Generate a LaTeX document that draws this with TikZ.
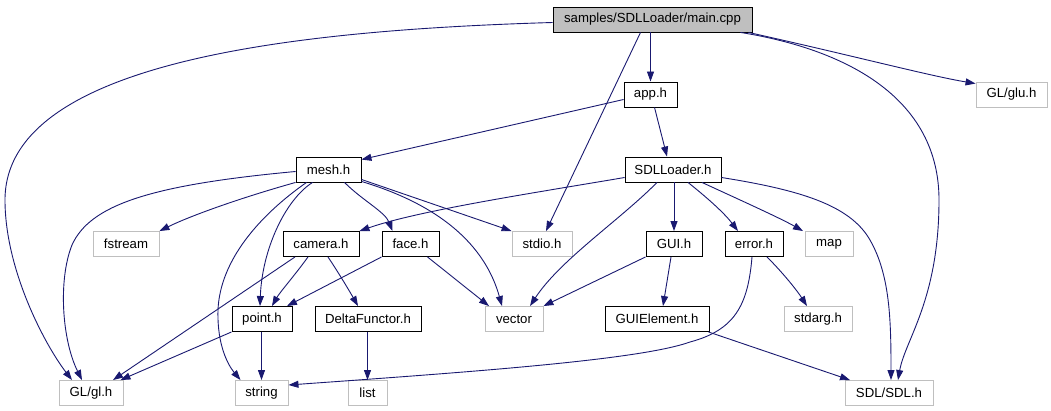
\documentclass[tikz,border=0pt]{standalone}
\usepackage{fontspec}
\setmainfont{Liberation Sans}
\usetikzlibrary{arrows.meta}
\definecolor{edgeblue}{HTML}{191970}
\definecolor{sysgray}{HTML}{BFBFBF}

\begin{document}
\begin{tikzpicture}[x=1pt,y=-1pt,>={Triangle[length=10pt,width=7pt]},line width=0.9pt,
  every node/.style={font=\fontsize{13.2}{15}\selectfont,inner sep=0pt,minimum height=25pt,align=center},
  hdr/.style={draw=black},
  sys/.style={draw=sysgray},
  dep/.style={->,draw=edgeblue}]
\useasboundingbox (0,0) rectangle (1051,411);
% files of the project
\node[hdr,fill=sysgray,minimum width=199pt] (main) at (652.5,19.5) {samples/SDLLoader/main.cpp};
\node[hdr,minimum width=53pt] (app) at (650.5,94.5) {app.h};
\node[hdr,minimum width=65pt] (mesh) at (328.5,169.5) {mesh.h};
\node[hdr,minimum width=96pt] (loader) at (673,169.5) {SDLLoader.h};
\node[hdr,minimum width=76pt] (camera) at (321,244) {camera.h};
\node[hdr,minimum width=57pt] (face) at (410.5,244) {face.h};
\node[hdr,minimum width=56pt] (gui) at (674,244) {GUI.h};
\node[hdr,minimum width=58pt] (error) at (754,244) {error.h};
\node[hdr,minimum width=60pt] (point) at (262,319) {point.h};
\node[hdr,minimum width=106pt] (delta) at (368,319) {DeltaFunctor.h};
\node[hdr,minimum width=104pt] (guielem) at (657,319) {GUIElement.h};
% system headers
\node[sys,minimum width=71pt] (glu) at (1011.5,94.5) {GL/glu.h};
\node[sys,minimum width=66pt] (fstream) at (126,244) {fstream};
\node[sys,minimum width=60pt] (stdio) at (542,244) {stdio.h};
\node[sys,minimum width=48pt] (map) at (829,244) {map};
\node[sys,minimum width=58pt] (vector) at (514,319) {vector};
\node[sys,minimum width=68pt] (stdarg) at (818,319) {stdarg.h};
\node[sys,minimum width=64pt] (gl) at (91,393) {GL/gl.h};
\node[sys,minimum width=53pt] (string) at (261.5,393) {string};
\node[sys,minimum width=39pt] (list) at (367.5,393) {list};
\node[sys,minimum width=88pt] (sdl) at (889,393) {SDL/SDL.h};
% includes of main.cpp
\draw[dep] (app.north |- main.south)--(app.north);
\draw[dep] ([xshift=-4]main.south east) .. controls (850,55) and (930,76) .. ([yshift=-2]glu.north west);
\draw[dep] ([xshift=-12]main.south east) .. controls (850,50) and (939,100) .. (939,200) .. controls (939,300) and (905,340) .. ([xshift=9]sdl.north);
\draw[dep] ([xshift=-12]main.south)--([xshift=4]stdio.north);
\draw[dep] ([yshift=-3]main.west) .. controls (300,30) and (5,60) .. (5,200) .. controls (5,270) and (45,345) .. ([xshift=-19]gl.north);
% app.h and mesh.h
\draw[dep] ([yshift=-5]app.west)--([yshift=-3]mesh.north east);
\draw[dep] ([xshift=4]app.south)--([xshift=-6]loader.north);
\draw[dep] ([yshift=-2]mesh.west) .. controls (150,185) and (90,205) .. (72,245) .. controls (58,280) and (62,340) .. ([xshift=-9]gl.north);
\draw[dep] (mesh.south west) .. controls (240,198) and (190,216) .. (fstream.north east);
\draw[dep] ([xshift=16]mesh.south) .. controls (362,200) and (385,212) .. ([xshift=-18]face.north);
\draw[dep] ([yshift=3]mesh.south east)--(stdio.north west);
\draw[dep] ([yshift=1]mesh.south east) .. controls (440,205) and (485,245) .. ([xshift=-12]vector.north);
\draw[dep] ([xshift=-16]mesh.south) .. controls (285,200) and (262,250) .. ([xshift=-2]point.north);
\draw[dep] ([xshift=-22]mesh.south) .. controls (260,215) and (220,260) .. (218,310) .. controls (217,345) and (228,365) .. ([xshift=-21]string.north);
% SDLLoader.h
\draw[dep] ([yshift=-8]loader.west) .. controls (540,192) and (420,210) .. (camera.north east);
\draw[dep] ([xshift=-16]loader.south) .. controls (620,220) and (560,260) .. ([xshift=16]vector.north);
\draw[dep] (gui.north |- loader.south)--(gui.north);
\draw[dep] ([xshift=15]loader.south) .. controls (710,200) and (725,214) .. ([xshift=-16]error.north);
\draw[dep] ([xshift=29]loader.south) .. controls (740,200) and (780,218) .. ([xshift=-26]map.north);
\draw[dep] ([yshift=-8]loader.east) .. controls (800,190) and (850,205) .. (870,240) .. controls (890,275) and (891,320) .. ([xshift=2]sdl.north);
% lower rows
\draw[dep] ([xshift=-26]camera.south)--([xshift=22]gl.north);
\draw[dep] ([xshift=-13]camera.south) .. controls (295,275) and (280,292) .. ([xshift=10]point.north);
\draw[dep] ([xshift=7]camera.south) .. controls (340,275) and (350,292) .. ([xshift=-10]delta.north);
\draw[dep] (face.south west)--([xshift=25]point.north);
\draw[dep] ([xshift=17]face.south)--([xshift=-25]vector.north);
\draw[dep] (gui.south west)--(vector.north east);
\draw[dep] ([xshift=-3]gui.south)--([xshift=6]guielem.north);
\draw[dep] ([xshift=-2]error.south) .. controls (748,305) and (735,330) .. (690,342) .. controls (640,360) and (470,372) .. ([yshift=8]string.east);
\draw[dep] ([xshift=13]error.south) .. controls (785,275) and (798,292) .. ([xshift=-11]stdarg.north);
\draw[dep] (point.south west)--([xshift=-3]gl.north east);
\draw[dep] (string.north |- point.south)--(string.north);
\draw[dep] (list.north |- delta.south)--(list.north);
\draw[dep] ([xshift=-1]guielem.south east)--([xshift=-39]sdl.north);
\end{tikzpicture}
\end{document}
